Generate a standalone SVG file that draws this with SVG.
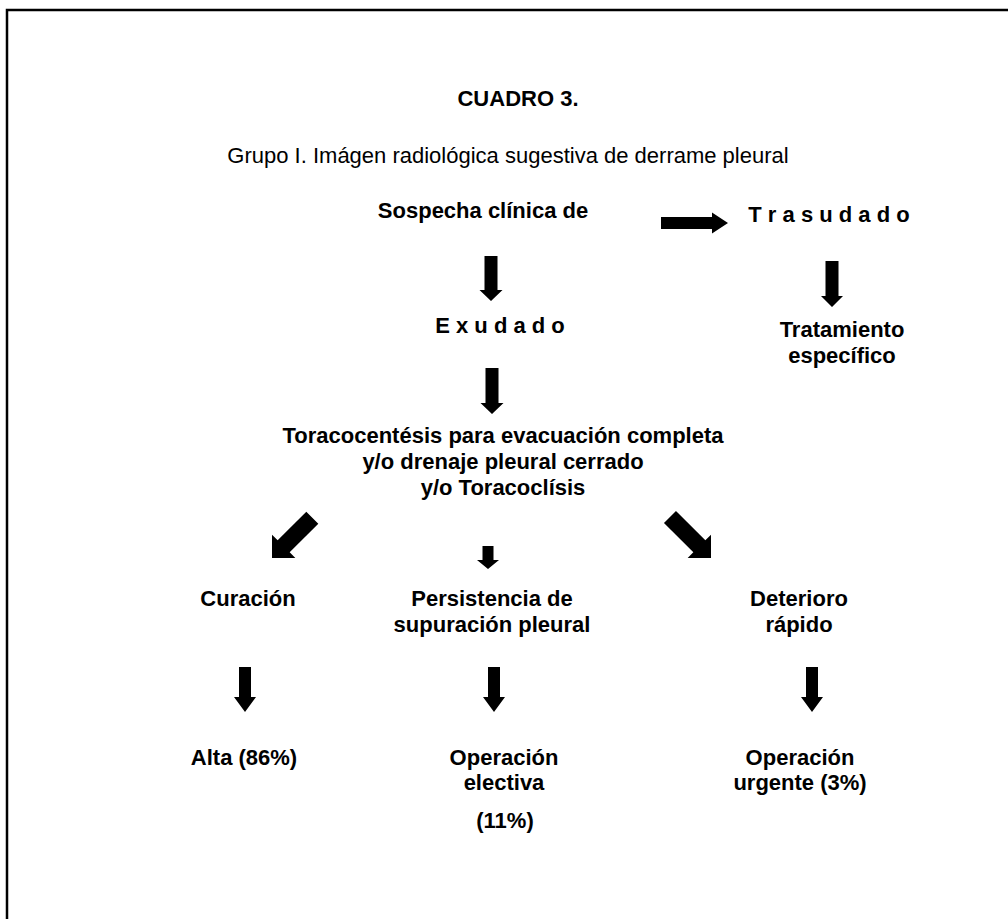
<svg xmlns="http://www.w3.org/2000/svg" width="1008" height="919" viewBox="0 0 1008 919">
<style>
text{font-family:"Liberation Sans",Arial,sans-serif;font-size:22px;fill:#000;text-anchor:middle}
.b{font-weight:bold}
.ar{fill:#000;stroke:none}
</style>
<rect width="1008" height="919" fill="#fff"/>
<path d="M7,919 V10 H1008" fill="none" stroke="#000" stroke-width="2.5"/>
<g id="title"><text class="b" x="518" y="106">CUADRO 3.</text></g>
<g id="subtitle"><text x="508" y="163">Grupo I. Imágen radiológica sugestiva de derrame pleural</text></g>
<g id="sospecha"><text class="b" x="483" y="218">Sospecha clínica de</text></g>
<g id="trasudado"><text class="b" x="829" y="222">T r a s u d a d o</text></g>
<g id="exudado"><text class="b" x="500" y="333">E x u d a d o</text></g>
<g id="tratamiento"><text class="b" x="842" y="337">Tratamiento</text><text class="b" x="842" y="363">específico</text></g>
<g id="toracocentesis"><text class="b" x="503" y="443">Toracocentésis para evacuación completa</text><text class="b" x="503" y="469">y/o drenaje pleural cerrado</text><text class="b" x="503" y="495">y/o Toracoclísis</text></g>
<g id="curacion"><text class="b" x="248" y="606">Curación</text></g>
<g id="persistencia"><text class="b" x="492" y="606">Persistencia de</text><text class="b" x="492" y="632">supuración pleural</text></g>
<g id="deterioro"><text class="b" x="799" y="606">Deterioro</text><text class="b" x="799" y="632">rápido</text></g>
<g id="alta"><text class="b" x="244" y="765">Alta (86%)</text></g>
<g id="electiva"><text class="b" x="504" y="765">Operación</text><text class="b" x="504" y="790">electiva</text><text class="b" x="505" y="828">(11%)</text></g>
<g id="urgente"><text class="b" x="800" y="765">Operación</text><text class="b" x="800" y="790">urgente (3%)</text></g>
<g id="connectors" class="ar">
<polygon transform="translate(728,223)" points="-67,-6 -16,-6 -16,-10.5 0,0 -16,10.5 -16,6 -67,6"/>
<polygon transform="translate(491,301) rotate(90)" points="-45,-6.5 -11,-6.5 -11,-11.5 0,0 -11,11.5 -11,6.5 -45,6.5"/>
<polygon transform="translate(832,307) rotate(90)" points="-46,-6.5 -11,-6.5 -11,-11 0,0 -11,11 -11,6.5 -46,6.5"/>
<polygon transform="translate(492,414) rotate(90)" points="-46,-6.5 -11,-6.5 -11,-11.5 0,0 -11,11.5 -11,6.5 -46,6.5"/>
<polygon transform="translate(272,558) rotate(135)" points="-57,-8.5 -16.5,-8.5 -16.5,-16.5 0,0 -16.5,16.5 -16.5,8.5 -57,8.5"/>
<polygon transform="translate(488,569) rotate(90)" points="-23,-5.5 -9,-5.5 -9,-11 0,0 -9,11 -9,5.5 -23,5.5"/>
<polygon transform="translate(711,558) rotate(45)" points="-58,-8.5 -16.5,-8.5 -16.5,-16.5 0,0 -16.5,16.5 -16.5,8.5 -58,8.5"/>
<polygon transform="translate(245,712) rotate(90)" points="-45,-6 -15,-6 -15,-11 0,0 -15,11 -15,6 -45,6"/>
<polygon transform="translate(494,712) rotate(90)" points="-45,-6 -15,-6 -15,-11 0,0 -15,11 -15,6 -45,6"/>
<polygon transform="translate(812,712) rotate(90)" points="-45,-6 -15,-6 -15,-11 0,0 -15,11 -15,6 -45,6"/>
</g>
</svg>
